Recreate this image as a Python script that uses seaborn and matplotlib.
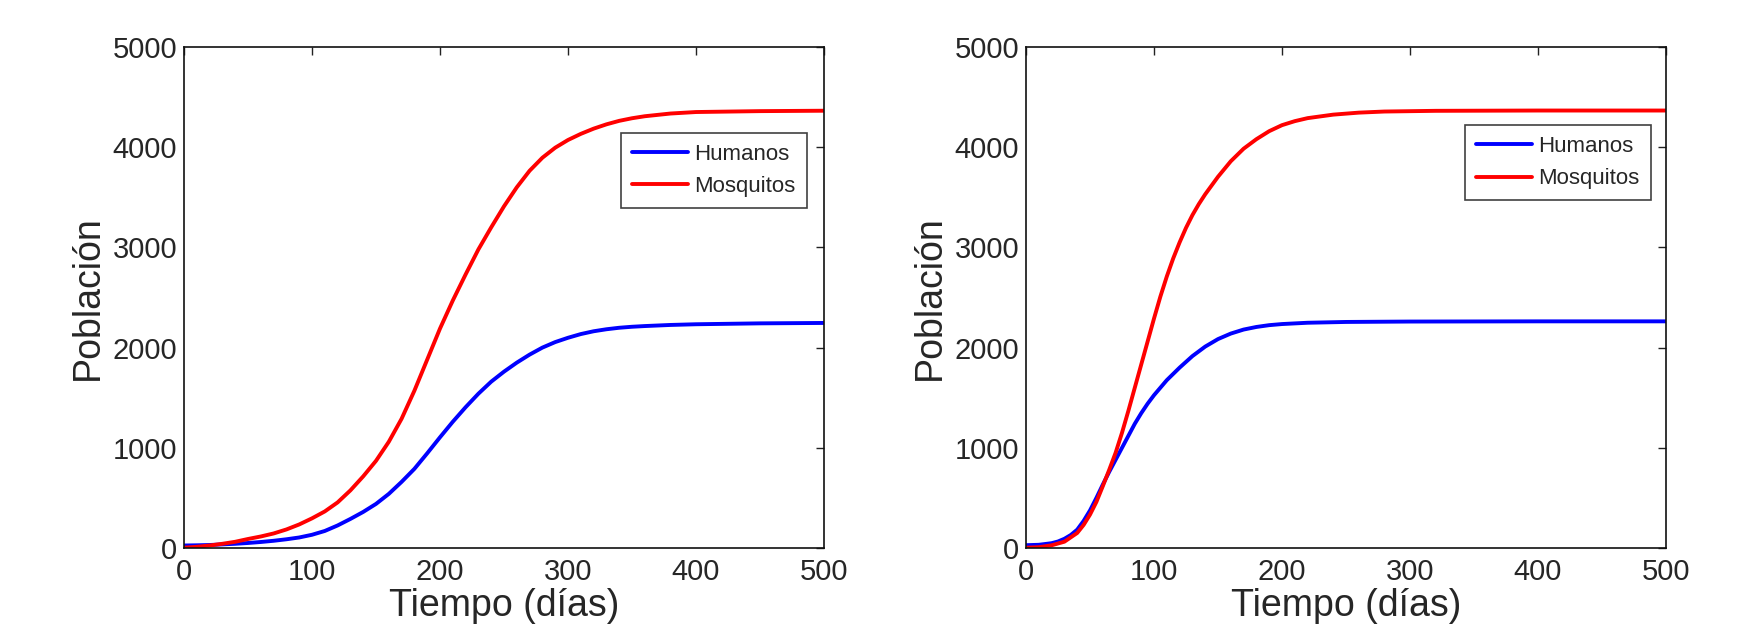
import numpy as np
import pandas as pd
import matplotlib
matplotlib.use("Agg")
import matplotlib.pyplot as plt
import seaborn as sns

# --- datos ---
# panel izquierdo
t_izq_hum = [0, 10, 20, 30, 40, 50, 60, 70, 80, 90, 100, 110, 120, 130, 140,
             150, 160, 170, 180, 190, 200, 210, 220, 230, 240, 250, 260, 270,
             280, 290, 300, 310, 320, 330, 340, 350, 360, 380, 400, 450, 500]
izq_hum = [25, 27, 30, 36, 42, 50, 60, 72, 87, 105, 132, 170, 225, 290, 360,
           440, 540, 660, 790, 945, 1105, 1260, 1405, 1540, 1660, 1760, 1850,
           1930, 2000, 2055, 2098, 2135, 2163, 2183, 2198, 2208, 2215, 2226,
           2233, 2242, 2246]

t_izq_mos = [0, 10, 20, 30, 40, 50, 60, 70, 80, 90, 100, 110, 120, 130, 140,
             150, 160, 170, 180, 190, 200, 210, 220, 230, 240, 250, 260, 270,
             280, 290, 300, 310, 320, 330, 340, 350, 360, 380, 400, 450, 500]
izq_mos = [3, 12, 25, 42, 62, 90, 115, 145, 185, 235, 296, 365, 455, 575, 715,
           870, 1060, 1290, 1570, 1880, 2190, 2470, 2730, 2980, 3200, 3410,
           3600, 3765, 3895, 3995, 4072, 4133, 4185, 4228, 4263, 4289, 4309,
           4336, 4351, 4360, 4364]

# panel derecho
t_der_hum = [0, 10, 20, 25, 30, 35, 40, 45, 50, 55, 60, 65, 70, 75, 80, 85,
             90, 95, 100, 110, 120, 130, 140, 150, 160, 170, 180, 190, 200,
             220, 250, 300, 400, 500]
der_hum = [28, 32, 48, 65, 92, 130, 183, 270, 375, 500, 633, 760, 880, 1000,
           1120, 1240, 1345, 1440, 1525, 1675, 1800, 1915, 2010, 2085, 2140,
           2180, 2206, 2224, 2235, 2248, 2256, 2260, 2262, 2262]

t_der_mos = [0, 10, 20, 30, 40, 45, 50, 55, 60, 65, 70, 75, 80, 85, 90, 95,
             100, 105, 110, 115, 120, 125, 130, 135, 140, 150, 160, 170, 180,
             190, 200, 210, 220, 240, 260, 280, 320, 400, 500]
der_mos = [3, 8, 27, 63, 150, 230, 333, 460, 617, 780, 950, 1150, 1370, 1600,
           1830, 2060, 2290, 2510, 2710, 2890, 3050, 3195, 3322, 3432, 3530,
           3705, 3860, 3985, 4080, 4160, 4220, 4260, 4290, 4325, 4345, 4356,
           4363, 4366, 4366]

etiquetas = ["Humanos", "Mosquitos"]
colores = ["#0000ff", "#ff0000"]
x_ticks = [0, 100, 200, 300, 400, 500]
y_ticks = [0, 1000, 2000, 3000, 4000, 5000]

sns.set_style("white")
plt.rcParams['font.family'] = ['Liberation Sans', 'DejaVu Sans']

fig = plt.figure(figsize=(17.45, 6.28), dpi=100)
ax1 = fig.add_axes([184 / 1745, 1 - 548 / 628, 640 / 1745, 501 / 628])
ax2 = fig.add_axes([1026 / 1745, 1 - 548 / 628, 640 / 1745, 501 / 628])

paneles = [
    (ax1, [(t_izq_hum, izq_hum), (t_izq_mos, izq_mos)], (0.973, 0.829)),
    (ax2, [(t_der_hum, der_hum), (t_der_mos, der_mos)], (0.976, 0.844)),
]

for ax, series, anchor in paneles:
    for (t, v), lab, col in zip(series, etiquetas, colores):
        df = pd.DataFrame({"t": t, "v": v})
        sns.lineplot(data=df, x="t", y="v", ax=ax, color=col, lw=2.8,
                     label=lab, sort=True)
    ax.set_xlim(0, 500)
    ax.set_ylim(0, 5000)
    ax.set_xticks(x_ticks)
    ax.set_yticks(y_ticks)
    ax.tick_params(direction='in', top=True, right=True, length=6, width=1,
                   color='#222222', labelsize=21)
    ax.tick_params(axis='x', pad=7)
    ax.tick_params(axis='y', pad=5)
    for sp in ax.spines.values():
        sp.set_visible(True)
        sp.set_color('#111111')
        sp.set_linewidth(1.2)
    ax.set_xlabel("Tiempo (días)", fontsize=27, labelpad=2)
    ax.set_ylabel("Población", fontsize=27, labelpad=5)
    leg = ax.legend(loc='upper right', bbox_to_anchor=anchor, fontsize=16,
                    frameon=True, fancybox=False, handlelength=2.5,
                    handletextpad=0.3, borderpad=0.5, labelspacing=0.5,
                    borderaxespad=0)
    leg.get_frame().set_edgecolor('#111111')
    leg.get_frame().set_linewidth(1.2)
    for h in leg.get_lines():
        h.set_linewidth(2.8)

fig.savefig("out.png", dpi=100)
